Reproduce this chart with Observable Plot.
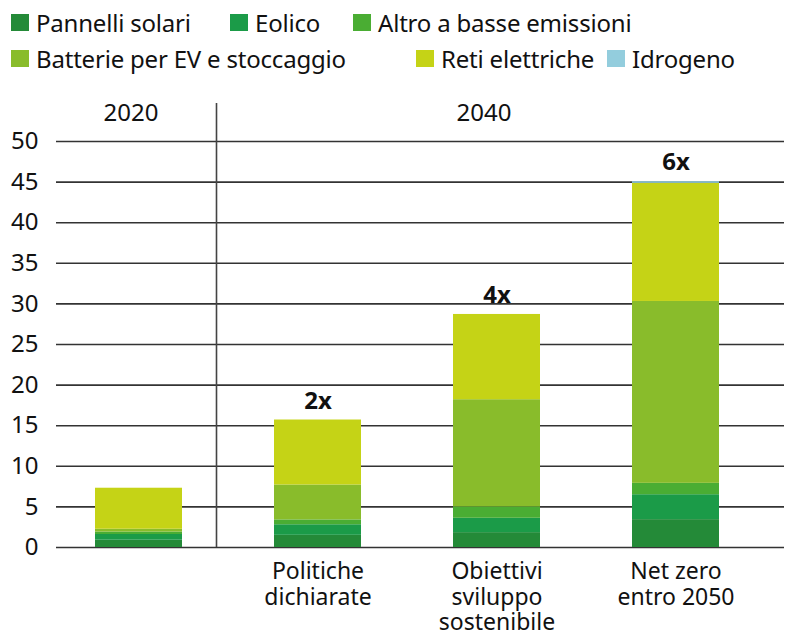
<!DOCTYPE html>
<html>
<head>
<meta charset="utf-8">
<script src="https://cdn.jsdelivr.net/npm/d3@7"></script>
<script src="https://cdn.jsdelivr.net/npm/@observablehq/plot@0.6"></script>
<style>
  body { margin: 0; background: #fff; font-family: "Noto Sans", sans-serif; }
  #wrap { position: relative; width: 800px; height: 640px; }
  #legend { position: relative; height: 85px; }
  .item { position: absolute; display: flex; align-items: center; font-size: 24px; color: #111; white-space: nowrap; letter-spacing: -0.2px; }
  .sw { width: 18px; height: 17px; margin-right: 7px; }
</style>
</head>
<body>
<div id="wrap">
  <div id="legend"></div>
  <div id="chart"></div>
</div>
<script>
const categories = ["2020", "Politiche dichiarate", "Obiettivi sviluppo sostenibile", "Net zero entro 2050"];
const tickLabels = ["", "Politiche\ndichiarate", "Obiettivi\nsviluppo\nsostenibile", "Net zero\nentro 2050"];
const series = ["Pannelli solari", "Eolico", "Altro a basse emissioni", "Batterie per EV e stoccaggio", "Reti elettriche", "Idrogeno"];
const colors = ["#248a38", "#1b9b48", "#4aad33", "#89bc2b", "#c5d316", "#93cddd"];
const pannelliSolari = [0.9, 1.5, 1.83, 3.43];
const eolico = [0.7, 1.3, 1.77, 3.07];
const altro = [0.3, 0.6, 1.4, 1.4];
const batterie = [0.35, 4.3, 13.2, 22.4];
const reti = [5.05, 8.0, 10.5, 14.55];
const idrogeno = [0, 0, 0, 0.2];
const multipliers = ["", "2x", "4x", "6x"];
const periods = ["2020", "2040"];
const periodAt = ["2020", "Obiettivi sviluppo sostenibile"];
const yTicks = [0, 5, 10, 15, 20, 25, 30, 35, 40, 45, 50];

// legend layout
const legendX = [11, 230, 353, 11, 416, 607];
const legendRow = [0, 0, 0, 1, 1, 1];
const legend = document.getElementById("legend");
series.forEach((s, i) => {
  const d = document.createElement("div");
  d.className = "item";
  d.style.left = legendX[i] + "px";
  d.style.top = (legendRow[i] === 0 ? 6 : 42) + "px";
  d.innerHTML = `<span class="sw" style="background:${colors[i]}"></span><span>${s}</span>`;
  legend.appendChild(d);
});

const seriesValues = [pannelliSolari, eolico, altro, batterie, reti, idrogeno];
const rows = [];
categories.forEach((c, ci) => {
  series.forEach((s, si) => {
    rows.push({category: c, series: s, value: seriesValues[si][ci]});
  });
});
const totals = categories.map((c, ci) => ({
  category: c,
  total: d3.sum(seriesValues, v => v[ci]),
  label: multipliers[ci]
}));

const plot = Plot.plot({
  width: 800,
  height: 555,
  marginTop: 56,
  marginLeft: 56,
  marginRight: 16,
  marginBottom: 93,
  style: { fontFamily: "Noto Sans, sans-serif", fontSize: "24px", color: "#111" },
  x: { domain: categories, paddingInner: 0.514, paddingOuter: 0.29, align: 0.375, label: null },
  y: { domain: [0, 50], label: null },
  color: { domain: series, range: colors },
  marks: [
    Plot.ruleY(yTicks, { stroke: "#333", strokeWidth: 1.6 }),
    Plot.ruleX([categories[0]], { y1: 50, y2: 0, dx: 77.5, insetTop: -38, stroke: "#444", strokeWidth: 1.6 }),
    Plot.barY(rows, Plot.stackY({ x: "category", y: "value", fill: "series", order: series })),
    Plot.text(totals, { x: "category", y: "total", text: "label", dy: -19, fontWeight: "bold", fontSize: 24, fill: "#111" }),
    Plot.text([periods[0]], { x: [periodAt[0]], text: d => d, frameAnchor: "top", lineAnchor: "middle", dy: -28, dx: -8, fontSize: 24, fill: "#111" }),
    Plot.text([periods[1]], { x: [periodAt[1]], text: d => d, frameAnchor: "top", lineAnchor: "middle", dy: -28, dx: -13, fontSize: 24, fill: "#111" }),
    Plot.axisY({ ticks: yTicks, tickSize: 0, tickPadding: 18, fontSize: 24, label: null }),
    Plot.axisX({ tickSize: 0, tickPadding: 14, fontSize: 23, lineHeight: 1.1, label: null,
      tickFormat: d => tickLabels[categories.indexOf(d)] })
  ]
});
document.getElementById("chart").appendChild(plot);
</script>
</body>
</html>
